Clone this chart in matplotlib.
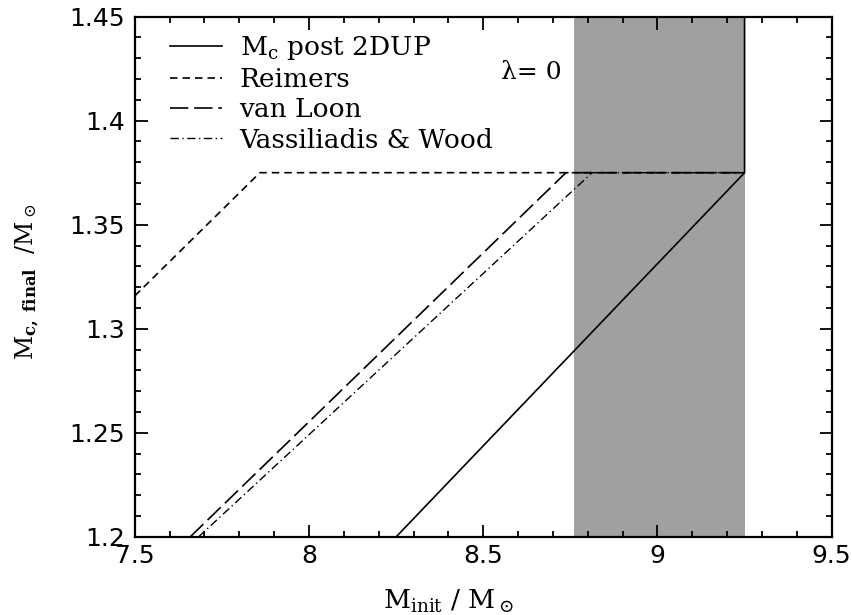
# Final core mass vs initial mass, lambda = 0
import matplotlib
matplotlib.use("Agg")
import matplotlib.pyplot as plt
from matplotlib.ticker import MultipleLocator

plt.rcParams['font.family'] = ['DejaVu Serif']
plt.rcParams['mathtext.fontset'] = 'dejavuserif'

# data
m_post2dup_x = [8.25, 9.25, 9.25]
m_post2dup_y = [1.20, 1.375, 1.45]
reimers_x = [7.50, 7.859, 9.25]
reimers_y = [1.3158, 1.375, 1.375]
vanloon_x = [7.659, 8.7375, 9.25]
vanloon_y = [1.20, 1.375, 1.375]
vw_x = [7.683, 8.8125, 9.25]
vw_y = [1.20, 1.375, 1.375]
band = (8.76, 9.25)

xticks = [7.5, 8, 8.5, 9, 9.5]
xtick_labels = ['7.5', '8', '8.5', '9', '9.5']
yticks = [1.2, 1.25, 1.3, 1.35, 1.4, 1.45]
ytick_labels = ['1.2', '1.25', '1.3', '1.35', '1.4', '1.45']

fig = plt.figure(figsize=(8.53, 6.15), dpi=100)
ax = fig.add_axes([0.158, 0.127, 0.817, 0.846])

ax.axvspan(band[0], band[1], color='#a0a0a0', lw=0, zorder=0)

ax.plot(m_post2dup_x, m_post2dup_y, color='k', lw=1.2, label=r'M$_{\rm c}$ post 2DUP')
ax.plot(reimers_x, reimers_y, color='k', lw=1.2, dashes=(4.5, 3), label='Reimers')
ax.plot(vanloon_x, vanloon_y, color='k', lw=1.2, dashes=(11, 3.5), label='van Loon')
ax.plot(vw_x, vw_y, color='k', lw=1.0, dashes=(6, 2.5, 1, 2.5), label='Vassiliadis & Wood')

ax.text(8.55, 1.423, '\u03bb= 0', fontsize=18, ha='left', va='center')

ax.set_xlim(7.5, 9.5)
ax.set_ylim(1.2, 1.45)
ax.xaxis.set_minor_locator(MultipleLocator(0.1))
ax.yaxis.set_minor_locator(MultipleLocator(0.01))
ax.tick_params(which='both', direction='in', top=True, right=True, width=1.3)
ax.tick_params(which='major', length=9)
ax.tick_params(which='minor', length=4.5)
for s in ax.spines.values():
    s.set_linewidth(1.6)

ax.set_xticks(xticks)
ax.set_xticklabels(xtick_labels, family='DejaVu Sans', fontsize=18)
ax.set_yticks(yticks)
ax.set_yticklabels(ytick_labels, family='DejaVu Sans', fontsize=18)
ax.tick_params(axis='x', pad=5)
ax.tick_params(axis='y', pad=7)

ax.set_xlabel(r'M$_{\rm init}$ / M$_\odot$', fontsize=19)
ax.xaxis.set_label_coords(0.45, -0.098)
ax.set_ylabel(r'M$_{\bf c,\ final}$  /M$_\odot$', fontsize=17)
ax.yaxis.set_label_coords(-0.135, 0.49)

ax.legend(loc='upper left', frameon=False, fontsize=19, handlelength=1.97,
          handletextpad=0.68, labelspacing=0.2, borderpad=0, borderaxespad=0,
          bbox_to_anchor=(0.050, 0.967))

fig.savefig('out.png', dpi=100)
